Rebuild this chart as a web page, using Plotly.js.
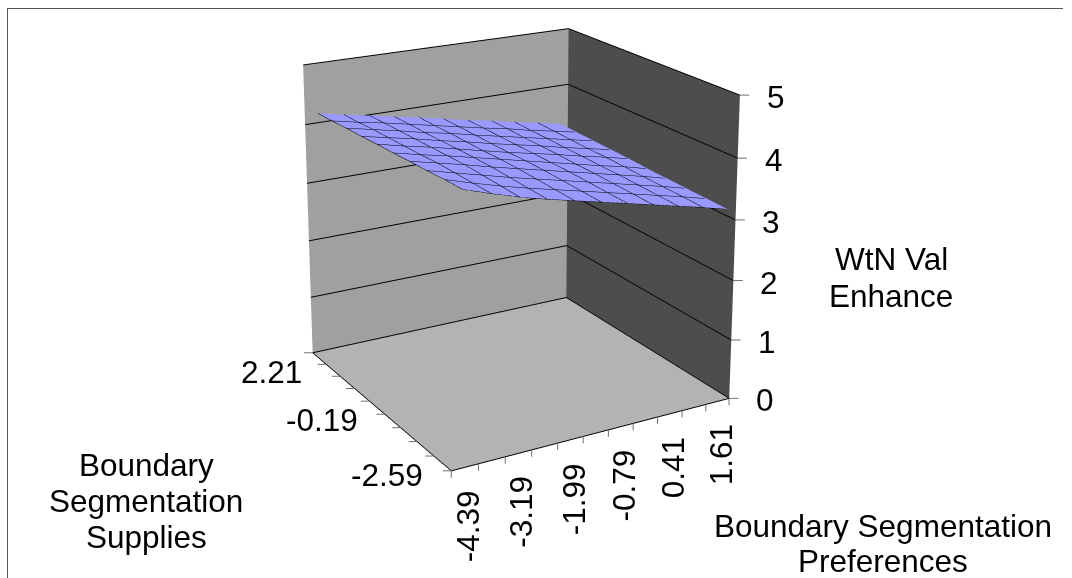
<!DOCTYPE html>
<html><head><meta charset="utf-8"><script src="https://cdn.plot.ly/plotly-3.0.1.min.js"></script>
<style>html,body{margin:0;padding:0;background:#fff;overflow:hidden}#wrap{position:absolute;left:0;top:0;width:1072px;height:578px;overflow:hidden}#gd{position:absolute;left:-42px;top:-650px;width:1114px;height:1542px}</style></head>
<body><div id="wrap"><div id="gd"></div></div>
<script>
const preferences=[-4.39,-3.79,-3.19,-2.59,-1.99,-1.39,-0.79,-0.19,0.41,1.01,1.61];
const supplies=[-3.19,-2.59,-1.99,-1.39,-0.79,-0.19,0.41,1.01,1.61,2.21];
const enhance=[
[4.29,4.15,4.02,3.91,3.81,3.71,3.61,3.51,3.41,3.31,3.20],
[4.28,4.15,4.03,3.92,3.82,3.72,3.62,3.52,3.42,3.32,3.21],
[4.26,4.15,4.04,3.93,3.83,3.73,3.63,3.53,3.43,3.33,3.22],
[4.25,4.15,4.05,3.94,3.84,3.74,3.64,3.54,3.44,3.34,3.23],
[4.23,4.13,4.04,3.94,3.84,3.74,3.64,3.54,3.44,3.35,3.24],
[4.22,4.12,4.03,3.93,3.83,3.73,3.64,3.55,3.45,3.36,3.26],
[4.20,4.11,4.02,3.92,3.83,3.73,3.64,3.55,3.45,3.36,3.27],
[4.19,4.10,4.01,3.91,3.83,3.73,3.64,3.55,3.46,3.37,3.28],
[4.17,4.08,4.00,3.91,3.82,3.73,3.64,3.56,3.46,3.38,3.29],
[4.16,4.07,3.99,3.90,3.82,3.73,3.64,3.56,3.47,3.39,3.30]];
const xTickEdges=[-4.69,-4.10,-3.51,-2.92,-2.33,-1.74,-1.15,-0.56,0.03,0.63,1.22,1.81];
const xLabels=['-4.39','-3.19','-1.99','-0.79','0.41','1.61'];
const xLabelBand=[0,2,4,6,8,10];
const yTicks=supplies;
const yLabels=[-2.59,-0.19,2.21];
const zLabels=[0,1,2,3,4,5];
const xmin=-4.69,xmax=1.81,ymin=-3.19,ymax=2.21;
const FS=31.5, FONT={family:'"Liberation Sans",Arial,sans-serif',size:FS,color:'#000'};
const L=42,TOP=650,PW=1114,PH=1542;
const px=v=>(v+L)/PW, py=v=>1-(v+TOP)/PH;
const titles=[['Boundary',146,465],['Segmentation',146,501],['Supplies',146,537],
 ['Boundary Segmentation',883,526],['Preferences',883,561],['WtN Val',891,259],['Enhance',891,296]];
const X=xmax-0.002,Y=ymin+0.002;
const tick=(x,y,z,ax,ay)=>({x,y,z,text:' ',showarrow:true,ax,ay,arrowhead:0,arrowwidth:1,arrowcolor:'#707070',standoff:0,font:{size:1}});
const sceneAnn=[];
xLabels.forEach((t,i)=>{const b=xLabelBand[i];sceneAnn.push({x:(xTickEdges[b]+xTickEdges[b+1])/2,y:Y,z:0,text:t,showarrow:false,textangle:-90,xanchor:'center',yanchor:'top',xshift:3,yshift:-21,font:FONT})});
yLabels.forEach(v=>sceneAnn.push({x:xmin,y:v,z:0,text:v.toFixed(2),showarrow:false,xanchor:'right',yanchor:'middle',xshift:-9,yshift:-19,font:FONT}));
zLabels.forEach(v=>sceneAnn.push({x:X,y:Y,z:v,text:String(v),showarrow:false,xanchor:'center',yanchor:'middle',xshift:36,yshift:-2,font:FONT}));
xTickEdges.forEach(e=>sceneAnn.push(tick(Math.min(e,X),Y,0,0,9)));
yTicks.forEach(v=>sceneAnn.push(tick(xmin,Math.max(v,Y),0,-10,0)));
zLabels.forEach(v=>sceneAnn.push(tick(X,Y,v,11,0)));
const axis=(range)=>({range,autorange:false,type:'linear',showticklabels:false,ticks:'',
 showgrid:false,zeroline:false,showspikes:false,showline:true,linecolor:'#000',linewidth:2,showbackground:true,title:{text:''}});
const xa=axis([xmin,xmax]); xa.backgroundcolor='#4d4d4d';
const ya=axis([ymin,ymax]); ya.backgroundcolor='#a0a0a0';
const za=axis([0,5]); za.backgroundcolor='#b3b3b3'; za.showline=false; za.showgrid=true; za.gridcolor='#000'; za.gridwidth=2; za.tickmode='array'; za.tickvals=zLabels;
const trace={type:'surface',x:preferences,y:supplies,z:enhance,surfacecolor:enhance.map(r=>r.map(()=>0)),cmin:0,cmax:1,
 colorscale:[[0,'#9999ff'],[1,'#9999ff']],showscale:false,hoverinfo:'skip',
 lighting:{ambient:1,diffuse:0,specular:0,roughness:1,fresnel:0},
 contours:{x:{show:true,start:-4.39,end:1.62,size:0.6,color:'#000',width:3,highlight:false},y:{show:true,start:-3.19,end:2.22,size:0.6,color:'#000',width:3,highlight:false},z:{highlight:false}}};
const layout={width:PW,height:PH,margin:{l:0,r:0,t:0,b:0},paper_bgcolor:'#fff',showlegend:false,
 scene:{domain:{x:[0,1],y:[0,1]},xaxis:xa,yaxis:ya,zaxis:za,aspectmode:'manual',aspectratio:{x:0.5844,y:0.5798,z:0.5846},
  camera:{eye:{x:-1.6348,y:-2.8408,z:1.1758},center:{x:0,y:0,z:0.2136},up:{x:0,y:0,z:1},projection:{type:'perspective'}},annotations:sceneAnn,dragmode:false},
 annotations:titles.map(t=>({xref:'paper',yref:'paper',x:px(t[1]),y:py(t[2]),text:t[0],showarrow:false,xanchor:'center',yanchor:'middle',font:FONT})),
 shapes:[{type:'line',xref:'paper',yref:'paper',x0:px(7.5),x1:px(7.5),y0:py(8),y1:py(578),line:{color:'#555',width:1}},
  {type:'line',xref:'paper',yref:'paper',x0:px(7),x1:px(1063),y0:py(8.5),y1:py(8.5),line:{color:'#555',width:1}}]};
Plotly.newPlot('gd',[trace],layout,{displayModeBar:false,responsive:false});
</script></body></html>
